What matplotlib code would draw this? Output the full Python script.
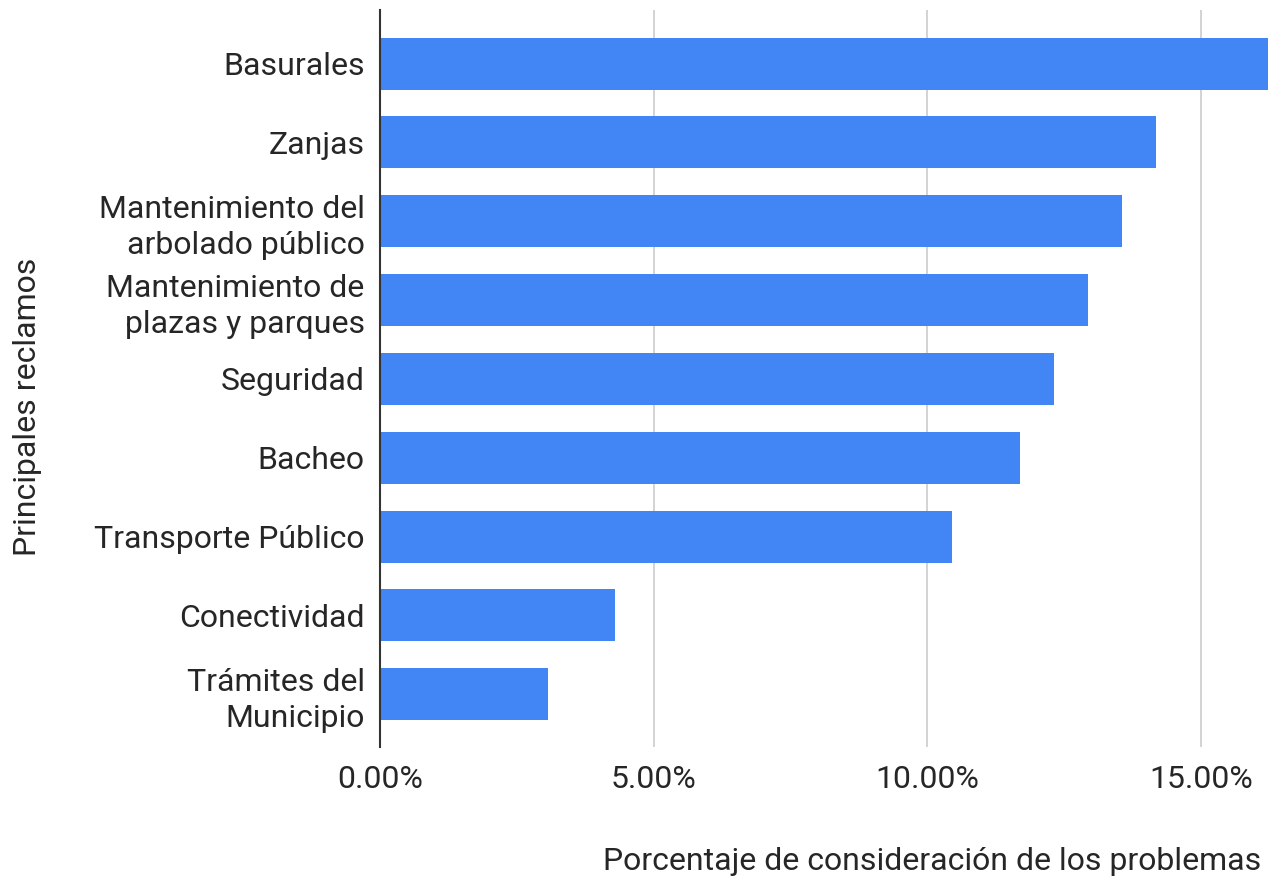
import matplotlib
matplotlib.use("Agg")
import matplotlib.pyplot as plt
from matplotlib.ticker import FuncFormatter

categories = [
    "Basurales",
    "Zanjas",
    "Mantenimiento del\narbolado público",
    "Mantenimiento de\nplazas y parques",
    "Seguridad",
    "Bacheo",
    "Transporte Público",
    "Conectividad",
    "Trámites del\nMunicipio",
]
values = [16.5, 14.18, 13.56, 12.94, 12.31, 11.69, 10.45, 4.29, 3.07]
xticks = [0, 5, 10, 15]

plt.rcParams["font.family"] = ["Roboto", "DejaVu Sans"]
FS = 23
TXT = "#262626"

fig = plt.figure(figsize=(12.68, 8.81), dpi=100)
ax = fig.add_axes([0.2997, 0.152, 0.7003, 0.8366])

ypos = list(range(len(categories)))
ax.barh(ypos, values, height=0.66, color="#4285f4", zorder=3)

ax.set_xlim(0, 16.22)
ax.set_ylim(len(categories) - 0.33, -0.68)
ax.set_yticks(ypos)
ax.set_yticklabels(categories, fontsize=FS, color=TXT, linespacing=1.3)
ax.set_xticks(xticks)
ax.xaxis.set_major_formatter(FuncFormatter(lambda v, p: f"{v:.2f}%"))
ax.tick_params(axis="x", labelsize=FS, colors=TXT, length=0, pad=13)
ax.tick_params(axis="y", length=0, pad=11)

ax.grid(axis="x", color="#cccccc", linewidth=1.2, zorder=0)
for side in ["top", "right", "bottom"]:
    ax.spines[side].set_visible(False)
ax.spines["left"].set_color("#333333")
ax.spines["left"].set_linewidth(1.5)
ax.spines["left"].set_zorder(4)

fig.text(0.995, 0.0216, "Porcentaje de consideración de los problemas", ha="right",
         va="center", fontsize=FS, color=TXT)
fig.text(0.022, 0.538, "Principales reclamos", rotation=90, ha="center",
         va="center", fontsize=FS, color=TXT)

fig.savefig("out.png", dpi=100)
